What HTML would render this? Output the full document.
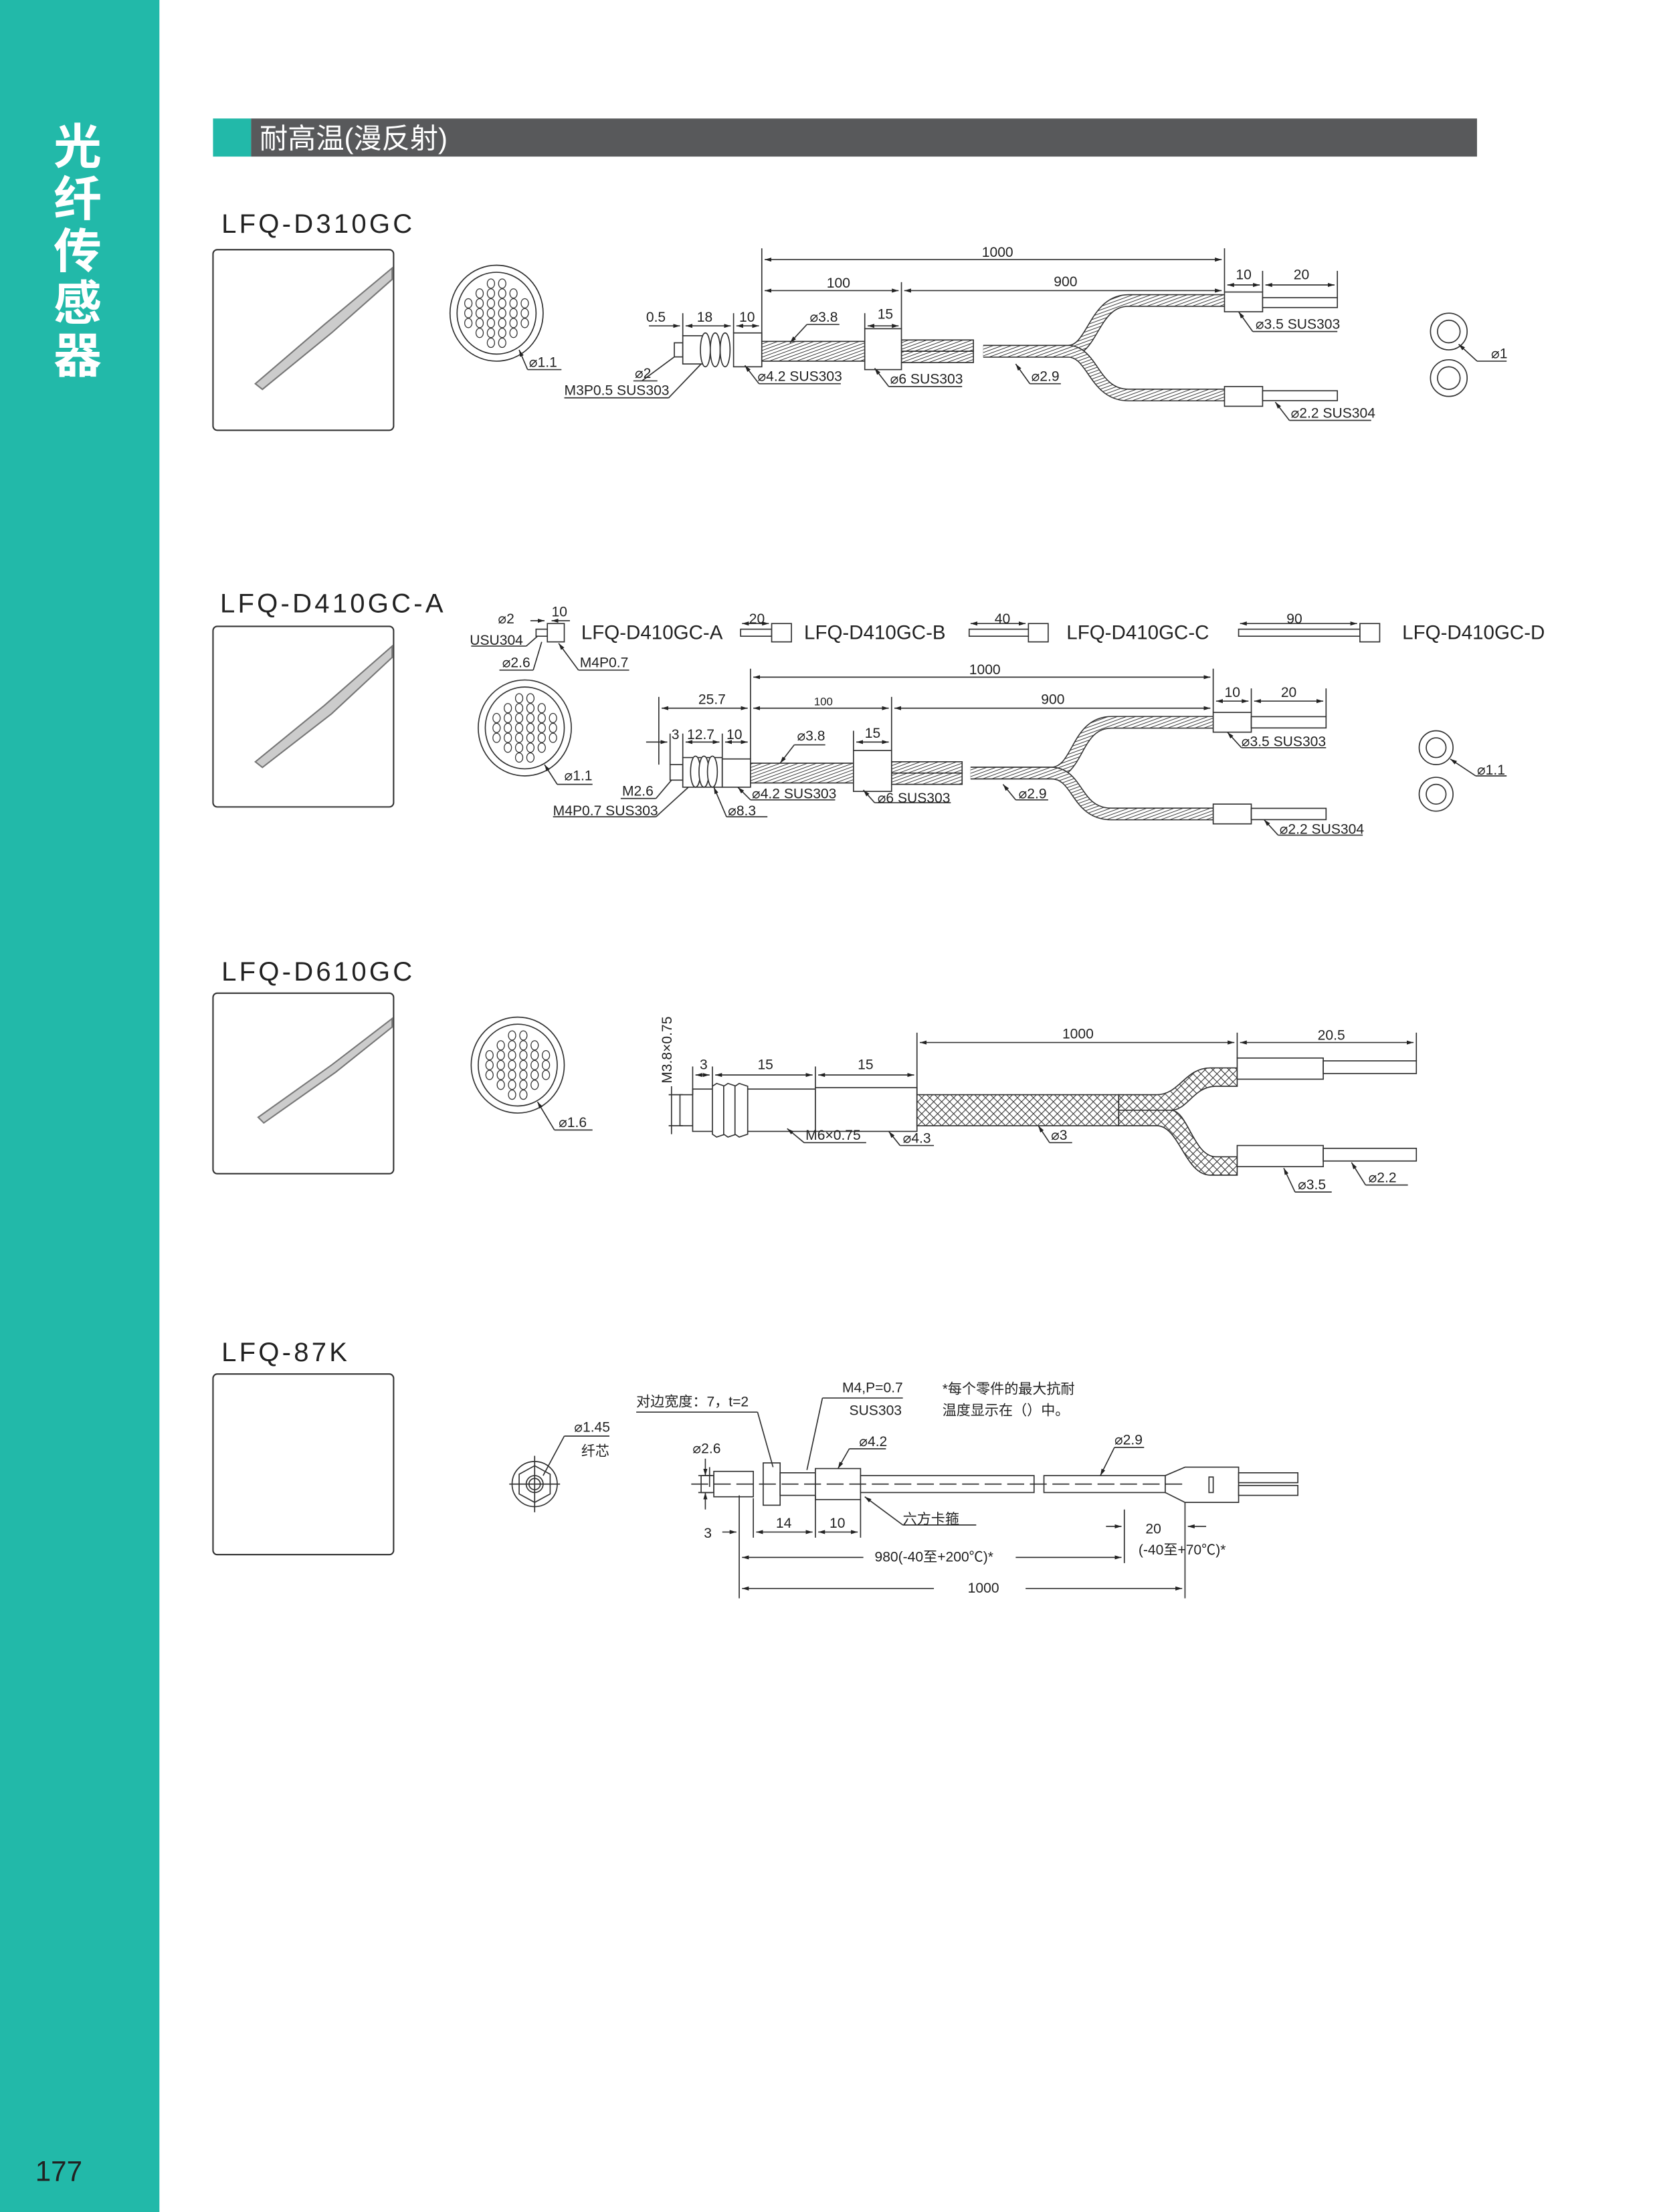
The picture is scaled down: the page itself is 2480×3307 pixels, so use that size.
<!DOCTYPE html>
<html><head><meta charset="utf-8"><style>
html,body{margin:0;padding:0;background:#fff}
svg{display:block}
text{font-family:"Liberation Sans","Noto Sans CJK SC",sans-serif;fill:#222}
</style></head><body>
<svg width="2480" height="3307" viewBox="0 0 1176 1568" preserveAspectRatio="none" xmlns="http://www.w3.org/2000/svg">
<defs>
<pattern id="h" width="2.2" height="2.2" patternUnits="userSpaceOnUse" patternTransform="rotate(70)">
<rect width="2.2" height="2.2" fill="#fff"/><line x1="0" y1="0" x2="0" y2="2.2" stroke="#333" stroke-width="0.9"/></pattern>
<pattern id="x" width="4" height="4" patternUnits="userSpaceOnUse" patternTransform="rotate(45)">
<rect width="4" height="4" fill="#fff"/><line x1="0" y1="0" x2="0" y2="4" stroke="#333" stroke-width="1"/><line x1="0" y1="0" x2="4" y2="0" stroke="#333" stroke-width="1"/></pattern>
<marker id="a" viewBox="0 0 10 10" refX="10" refY="5" markerWidth="6" markerHeight="6" orient="auto-start-reverse"><path d="M0,2 L10,5 L0,8z" fill="#222"/></marker>
<g id="bundle">
<ellipse cx="0" cy="0" rx="33" ry="34" fill="#fff" stroke="#333" stroke-width="0.8"/>
<ellipse cx="0" cy="0" rx="28" ry="29" fill="none" stroke="#333" stroke-width="0.8"/>
<g fill="none" stroke="#333" stroke-width="0.6">
<ellipse cx="-4" cy="-21" rx="2.6" ry="3.3"/><ellipse cx="4" cy="-21" rx="2.6" ry="3.3"/>
<ellipse cx="-12" cy="-14" rx="2.6" ry="3.3"/><ellipse cx="-4" cy="-14" rx="2.6" ry="3.3"/><ellipse cx="4" cy="-14" rx="2.6" ry="3.3"/><ellipse cx="12" cy="-14" rx="2.6" ry="3.3"/>
<ellipse cx="-20" cy="-7" rx="2.6" ry="3.3"/><ellipse cx="-12" cy="-7" rx="2.6" ry="3.3"/><ellipse cx="-4" cy="-7" rx="2.6" ry="3.3"/><ellipse cx="4" cy="-7" rx="2.6" ry="3.3"/><ellipse cx="12" cy="-7" rx="2.6" ry="3.3"/><ellipse cx="20" cy="-7" rx="2.6" ry="3.3"/>
<ellipse cx="-20" cy="0" rx="2.6" ry="3.3"/><ellipse cx="-12" cy="0" rx="2.6" ry="3.3"/><ellipse cx="-4" cy="0" rx="2.6" ry="3.3"/><ellipse cx="4" cy="0" rx="2.6" ry="3.3"/><ellipse cx="12" cy="0" rx="2.6" ry="3.3"/><ellipse cx="20" cy="0" rx="2.6" ry="3.3"/>
<ellipse cx="-20" cy="7" rx="2.6" ry="3.3"/><ellipse cx="-12" cy="7" rx="2.6" ry="3.3"/><ellipse cx="-4" cy="7" rx="2.6" ry="3.3"/><ellipse cx="4" cy="7" rx="2.6" ry="3.3"/><ellipse cx="12" cy="7" rx="2.6" ry="3.3"/><ellipse cx="20" cy="7" rx="2.6" ry="3.3"/>
<ellipse cx="-12" cy="14" rx="2.6" ry="3.3"/><ellipse cx="-4" cy="14" rx="2.6" ry="3.3"/><ellipse cx="4" cy="14" rx="2.6" ry="3.3"/><ellipse cx="12" cy="14" rx="2.6" ry="3.3"/>
<ellipse cx="-4" cy="21" rx="2.6" ry="3.3"/><ellipse cx="4" cy="21" rx="2.6" ry="3.3"/>
</g></g>
<g id="photo">
<rect x="0" y="0" width="128" height="128" rx="3" fill="#fff" stroke="#333" stroke-width="1"/>
</g>
</defs>

<rect x="0" y="0" width="113" height="1568" fill="#22b9a9"/>
<g font-size="34" font-weight="bold">
<text x="38" y="116" style="fill:#fff">光</text>
<text x="38" y="153" style="fill:#fff">纤</text>
<text x="38" y="190" style="fill:#fff">传</text>
<text x="38" y="227" style="fill:#fff">感</text>
<text x="38" y="264" style="fill:#fff">器</text>
</g>
<text x="25" y="1546" font-size="20">177</text>

<rect x="151" y="84" width="27" height="27" fill="#22b9a9"/>
<rect x="178" y="84" width="869" height="27" fill="#58595b"/>
<text x="184" y="105" font-size="20" style="fill:#fff">耐高温(漫反射)</text>

<g font-size="19" letter-spacing="2">
<text x="157" y="165">LFQ-D310GC</text>
<text x="156" y="434">LFQ-D410GC-A</text>
<text x="157" y="695">LFQ-D610GC</text>
<text x="157" y="965">LFQ-87K</text>
</g>
<use href="#photo" x="151" y="177"/>
<use href="#photo" x="151" y="444"/>
<use href="#photo" x="151" y="704"/>
<use href="#photo" x="151" y="974"/>
<g stroke="#777" fill="#ccc" stroke-width="1">
<path d="M181,272 L230,230 L278,190 L278,198 L235,236 L186,276z"/>
<path d="M181,540 L230,500 L278,458 L278,466 L235,506 L186,544z"/>
<path d="M183,792 L235,755 L278,722 L278,728 L238,760 L187,796z"/>
</g>

<g font-size="10" stroke-width="0.8">
<use href="#bundle" x="352" y="222"/>
<line x1="368" y1="248" x2="374" y2="262" stroke="#333" marker-start="url(#a)"/><line x1="374" y1="262" x2="398" y2="262" stroke="#333"/>
<text x="375" y="260">⌀1.1</text>
<g stroke="#333" fill="#fff">
<rect x="478" y="243" width="6" height="10"/>
<rect x="484" y="238" width="14" height="20"/>
<ellipse cx="500" cy="248" rx="3.5" ry="12"/><ellipse cx="507" cy="248" rx="3.5" ry="12"/><ellipse cx="514" cy="248" rx="3.5" ry="12"/>
<rect x="520" y="236" width="20" height="24"/>
<rect x="540" y="242" width="73" height="14" fill="url(#h)"/>
<rect x="639" y="241" width="51" height="8" fill="url(#h)"/><rect x="639" y="249" width="51" height="8" fill="url(#h)"/>
<path d="M697,249 L757,249 C775,249 775,213 800,213 L868,213" fill="none" stroke="#333" stroke-width="9"/>
<path d="M697,249 L757,249 C775,249 775,213 800,213 L868,213" fill="none" stroke="url(#h)" stroke-width="7.5"/>
<path d="M697,249 L757,249 C775,249 775,280 800,280 L868,280" fill="none" stroke="#333" stroke-width="9"/>
<path d="M697,249 L757,249 C775,249 775,280 800,280 L868,280" fill="none" stroke="url(#h)" stroke-width="7.5"/>
<rect x="613" y="233" width="26" height="29"/>
<rect x="868" y="207" width="27" height="14"/><rect x="895" y="211" width="53" height="7"/>
<rect x="868" y="274" width="27" height="14"/><rect x="895" y="277" width="53" height="7"/>
<circle cx="1027" cy="235" r="13"/><circle cx="1027" cy="235" r="8"/>
<circle cx="1027" cy="268" r="13"/><circle cx="1027" cy="268" r="8"/>
</g>
<g stroke="#333" fill="none">
<line x1="540" y1="176" x2="540" y2="242"/><line x1="868" y1="176" x2="868" y2="207"/><line x1="639" y1="200" x2="639" y2="233"/><line x1="895" y1="192" x2="895" y2="207"/><line x1="948" y1="192" x2="948" y2="211"/>
<line x1="542" y1="184" x2="866" y2="184" marker-start="url(#a)" marker-end="url(#a)"/>
<line x1="542" y1="206" x2="637" y2="206" marker-start="url(#a)" marker-end="url(#a)"/>
<line x1="641" y1="206" x2="866" y2="206" marker-start="url(#a)" marker-end="url(#a)"/>
<line x1="870" y1="202" x2="893" y2="202" marker-start="url(#a)" marker-end="url(#a)"/>
<line x1="897" y1="202" x2="946" y2="202" marker-start="url(#a)" marker-end="url(#a)"/>
<line x1="484" y1="222" x2="484" y2="238"/><line x1="520" y1="222" x2="520" y2="236"/>
<line x1="460" y1="231" x2="482" y2="231" marker-end="url(#a)"/><line x1="486" y1="231" x2="518" y2="231" marker-start="url(#a)" marker-end="url(#a)"/><line x1="522" y1="231" x2="538" y2="231" marker-start="url(#a)" marker-end="url(#a)"/>
<line x1="615" y1="231" x2="637" y2="231" marker-start="url(#a)" marker-end="url(#a)"/><line x1="613" y1="222" x2="613" y2="233"/>
<line x1="572" y1="230" x2="560" y2="243" marker-end="url(#a)"/><line x1="572" y1="230" x2="595" y2="230"/>
<line x1="455" y1="270" x2="478" y2="253" /><line x1="449" y1="270" x2="466" y2="270"/>
<line x1="474" y1="282" x2="497" y2="258"/><line x1="400" y1="282" x2="474" y2="282"/>
<line x1="538" y1="272" x2="528" y2="259" marker-end="url(#a)"/><line x1="538" y1="272" x2="596" y2="272"/>
<line x1="630" y1="274" x2="620" y2="261" marker-end="url(#a)"/><line x1="630" y1="274" x2="682" y2="274"/>
<line x1="730" y1="272" x2="720" y2="258" marker-end="url(#a)"/><line x1="730" y1="272" x2="752" y2="272"/>
<line x1="888" y1="235" x2="878" y2="221" marker-end="url(#a)"/><line x1="888" y1="235" x2="948" y2="235"/>
<line x1="914" y1="298" x2="904" y2="285" marker-end="url(#a)"/><line x1="914" y1="298" x2="972" y2="298"/>
<line x1="1047" y1="256" x2="1034" y2="244" marker-end="url(#a)"/><line x1="1047" y1="256" x2="1068" y2="256"/>
</g>
<text x="696" y="182">1000</text><text x="586" y="204">100</text><text x="747" y="203">900</text>
<text x="876" y="198">10</text><text x="917" y="198">20</text>
<text x="458" y="228">0.5</text><text x="494" y="228">18</text><text x="524" y="228">10</text><text x="574" y="228">⌀3.8</text><text x="622" y="226">15</text>
<text x="450" y="268">⌀2</text><text x="400" y="280">M3P0.5 SUS303</text><text x="537" y="270">⌀4.2 SUS303</text><text x="631" y="272">⌀6 SUS303</text><text x="731" y="270">⌀2.9</text>
<text x="890" y="233">⌀3.5 SUS303</text><text x="915" y="296">⌀2.2 SUS304</text><text x="1057" y="254">⌀1</text>

<g font-size="14"><text x="412" y="453">LFQ-D410GC-A</text><text x="570" y="453">LFQ-D410GC-B</text><text x="756" y="453">LFQ-D410GC-C</text><text x="994" y="453">LFQ-D410GC-D</text></g>
<g stroke="#333" fill="#fff">
<rect x="380" y="446" width="8" height="5"/><rect x="388" y="442" width="12" height="13"/>
<rect x="525" y="446" width="22" height="5"/><rect x="547" y="442" width="14" height="13"/>
<rect x="687" y="446" width="42" height="5"/><rect x="729" y="442" width="14" height="13"/>
<rect x="878" y="446" width="86" height="5"/><rect x="964" y="442" width="14" height="13"/>
</g>
<g stroke="#333" fill="none">
<line x1="376" y1="440" x2="386" y2="440" marker-end="url(#a)"/><line x1="404" y1="440" x2="391" y2="440" marker-end="url(#a)"/>
<line x1="526" y1="442" x2="545" y2="442" marker-start="url(#a)" marker-end="url(#a)"/>
<line x1="688" y1="442" x2="727" y2="442" marker-start="url(#a)" marker-end="url(#a)"/>
<line x1="879" y1="442" x2="962" y2="442" marker-start="url(#a)" marker-end="url(#a)"/>
<line x1="373" y1="458" x2="381" y2="451"/><line x1="334" y1="458" x2="373" y2="458"/>
<line x1="378" y1="475" x2="384" y2="455"/><line x1="354" y1="475" x2="378" y2="475"/>
<line x1="410" y1="475" x2="396" y2="456" marker-end="url(#a)"/><line x1="410" y1="475" x2="446" y2="475"/>
</g>
<text x="353" y="442">⌀2</text><text x="391" y="437">10</text><text x="333" y="457">USU304</text><text x="356" y="473">⌀2.6</text><text x="411" y="473">M4P0.7</text>
<text x="531" y="442">20</text><text x="705" y="442">40</text><text x="912" y="442">90</text>

<use href="#bundle" x="372" y="516"/>
<line x1="386" y1="542" x2="395" y2="556" stroke="#333" marker-start="url(#a)"/><line x1="395" y1="556" x2="420" y2="556" stroke="#333"/>
<text x="400" y="553">⌀1.1</text>
<g stroke="#333" fill="#fff">
<rect x="475" y="542" width="9" height="11"/>
<rect x="484" y="537" width="28" height="21"/>
<ellipse cx="493" cy="547" rx="3.5" ry="11"/><ellipse cx="499" cy="547" rx="3.5" ry="11"/><ellipse cx="505" cy="547" rx="3.5" ry="11"/>
<rect x="512" y="538" width="20" height="20"/>
<rect x="532" y="541" width="73" height="14" fill="url(#h)"/>
<rect x="632" y="540" width="50" height="8" fill="url(#h)"/><rect x="632" y="548" width="50" height="8" fill="url(#h)"/>
<path d="M688,548 L745,548 C765,548 762,512 788,512 L860,512" fill="none" stroke="#333" stroke-width="9"/>
<path d="M688,548 L745,548 C765,548 762,512 788,512 L860,512" fill="none" stroke="url(#h)" stroke-width="7.5"/>
<path d="M688,548 L745,548 C765,548 762,577 788,577 L860,577" fill="none" stroke="#333" stroke-width="9"/>
<path d="M688,548 L745,548 C765,548 762,577 788,577 L860,577" fill="none" stroke="url(#h)" stroke-width="7.5"/>
<rect x="605" y="532" width="27" height="29"/>
<rect x="860" y="505" width="27" height="14"/><rect x="887" y="508" width="53" height="8"/>
<rect x="860" y="570" width="27" height="14"/><rect x="887" y="573" width="53" height="8"/>
<circle cx="1018" cy="530" r="12"/><circle cx="1018" cy="530" r="7"/>
<circle cx="1018" cy="563" r="12"/><circle cx="1018" cy="563" r="7"/>
</g>
<g stroke="#333" fill="none">
<line x1="532" y1="474" x2="532" y2="538"/><line x1="860" y1="474" x2="860" y2="505"/><line x1="632" y1="494" x2="632" y2="532"/><line x1="887" y1="488" x2="887" y2="505"/><line x1="940" y1="488" x2="940" y2="508"/><line x1="467" y1="494" x2="467" y2="542"/><line x1="475" y1="520" x2="475" y2="542"/><line x1="484" y1="520" x2="484" y2="537"/><line x1="512" y1="520" x2="512" y2="537"/>
<line x1="534" y1="480" x2="858" y2="480" marker-start="url(#a)" marker-end="url(#a)"/>
<line x1="469" y1="502" x2="530" y2="502" marker-start="url(#a)" marker-end="url(#a)"/>
<line x1="534" y1="502" x2="630" y2="502" marker-start="url(#a)" marker-end="url(#a)"/>
<line x1="634" y1="502" x2="858" y2="502" marker-start="url(#a)" marker-end="url(#a)"/>
<line x1="862" y1="497" x2="885" y2="497" marker-start="url(#a)" marker-end="url(#a)"/>
<line x1="889" y1="497" x2="938" y2="497" marker-start="url(#a)" marker-end="url(#a)"/>
<line x1="458" y1="526" x2="473" y2="526" marker-end="url(#a)"/><line x1="486" y1="526" x2="510" y2="526" marker-start="url(#a)" marker-end="url(#a)"/><line x1="514" y1="526" x2="530" y2="526" marker-start="url(#a)" marker-end="url(#a)"/>
<line x1="607" y1="526" x2="630" y2="526" marker-start="url(#a)" marker-end="url(#a)"/><line x1="605" y1="518" x2="605" y2="532"/>
<line x1="563" y1="528" x2="553" y2="541" marker-end="url(#a)"/><line x1="563" y1="528" x2="585" y2="528"/>
<line x1="465" y1="566" x2="476" y2="553"/><line x1="440" y1="566" x2="465" y2="566"/>
<line x1="465" y1="579" x2="488" y2="558"/><line x1="392" y1="579" x2="465" y2="579"/>
<line x1="515" y1="579" x2="506" y2="558" marker-end="url(#a)"/><line x1="515" y1="579" x2="544" y2="579"/>
<line x1="532" y1="567" x2="523" y2="558" marker-end="url(#a)"/><line x1="532" y1="567" x2="592" y2="567"/>
<line x1="620" y1="569" x2="612" y2="560" marker-end="url(#a)"/><line x1="620" y1="569" x2="674" y2="569"/>
<line x1="720" y1="567" x2="711" y2="556" marker-end="url(#a)"/><line x1="720" y1="567" x2="743" y2="567"/>
<line x1="880" y1="530" x2="870" y2="519" marker-end="url(#a)"/><line x1="880" y1="530" x2="940" y2="530"/>
<line x1="906" y1="592" x2="896" y2="581" marker-end="url(#a)"/><line x1="906" y1="592" x2="966" y2="592"/>
<line x1="1046" y1="550" x2="1028" y2="538" marker-end="url(#a)"/><line x1="1046" y1="550" x2="1068" y2="550"/>
</g>
<text x="687" y="478">1000</text><text x="495" y="499">25.7</text><text x="577" y="500" font-size="8">100</text><text x="738" y="499">900</text>
<text x="868" y="494">10</text><text x="908" y="494">20</text>
<text x="476" y="524">3</text><text x="487" y="524">12.7</text><text x="515" y="524">10</text><text x="565" y="525">⌀3.8</text><text x="613" y="523">15</text>
<text x="441" y="564">M2.6</text><text x="392" y="578">M4P0.7 SUS303</text><text x="516" y="578">⌀8.3</text><text x="533" y="566">⌀4.2 SUS303</text><text x="622" y="569">⌀6 SUS303</text><text x="722" y="566">⌀2.9</text>
<text x="880" y="529">⌀3.5 SUS303</text><text x="907" y="591">⌀2.2 SUS304</text><text x="1047" y="549">⌀1.1</text>

<use href="#bundle" x="367" y="755"/>
<line x1="381" y1="781" x2="393" y2="801" stroke="#333" marker-start="url(#a)"/><line x1="393" y1="801" x2="420" y2="801" stroke="#333"/>
<text x="396" y="799">⌀1.6</text>
<g stroke="#333" fill="#fff">
<rect x="482" y="776" width="9" height="22"/>
<rect x="491" y="772" width="87" height="30"/>
<path d="M508,768 L514,770 L514,804 L508,806 L505,804 L505,770z"/>
<path d="M516,768 L522,770 L522,804 L516,806 L513,804 L513,770z"/>
<path d="M524,768 L530,770 L530,804 L524,806 L521,804 L521,770z"/>
<rect x="578" y="771" width="72" height="31"/>
<rect x="650" y="776" width="143" height="22" fill="url(#x)"/>
<path d="M793,776 L820,776 C836,776 840,757 858,757 L877,757 L877,770 L862,770 C846,770 842,787 830,787 L793,787z" fill="url(#x)"/>
<path d="M793,787 L830,787 C842,787 846,820 862,820 L877,820 L877,833 L858,833 C840,833 836,798 820,798 L793,798z" fill="url(#x)"/>
<rect x="877" y="750" width="61" height="15"/><rect x="938" y="752" width="66" height="9"/>
<rect x="877" y="812" width="61" height="15"/><rect x="938" y="814" width="66" height="9"/>
</g>
<g stroke="#333" fill="none">
<line x1="650" y1="732" x2="650" y2="776"/><line x1="877" y1="732" x2="877" y2="750"/><line x1="1004" y1="732" x2="1004" y2="752"/>
<line x1="652" y1="739" x2="875" y2="739" marker-start="url(#a)" marker-end="url(#a)"/>
<line x1="879" y1="739" x2="1002" y2="739" marker-start="url(#a)" marker-end="url(#a)"/>
<line x1="491" y1="756" x2="491" y2="776"/><line x1="505" y1="756" x2="505" y2="770"/><line x1="578" y1="756" x2="578" y2="771"/>
<line x1="493" y1="762" x2="503" y2="762" marker-start="url(#a)" marker-end="url(#a)"/>
<line x1="507" y1="762" x2="576" y2="762" marker-start="url(#a)" marker-end="url(#a)"/>
<line x1="580" y1="762" x2="648" y2="762" marker-start="url(#a)" marker-end="url(#a)"/>
<line x1="474" y1="776" x2="484" y2="776"/><line x1="474" y1="798" x2="484" y2="798"/><line x1="476" y1="770" x2="476" y2="804"/>
<line x1="570" y1="810" x2="558" y2="800" marker-end="url(#a)"/><line x1="570" y1="810" x2="614" y2="810"/>
<line x1="638" y1="812" x2="630" y2="802" marker-end="url(#a)"/><line x1="638" y1="812" x2="662" y2="812"/>
<line x1="744" y1="810" x2="736" y2="798" marker-end="url(#a)"/><line x1="744" y1="810" x2="760" y2="810"/>
<line x1="918" y1="845" x2="910" y2="828" marker-end="url(#a)"/><line x1="918" y1="845" x2="944" y2="845"/>
<line x1="968" y1="840" x2="958" y2="824" marker-end="url(#a)"/><line x1="968" y1="840" x2="998" y2="840"/>
</g>
<text x="753" y="736">1000</text><text x="934" y="737">20.5</text><text x="496" y="758">3</text><text x="537" y="758">15</text><text x="608" y="758">15</text>
<text transform="translate(476,768) rotate(-90)" font-size="10">M3.8×0.75</text>
<text x="571" y="808">M6×0.75</text><text x="640" y="810">⌀4.3</text><text x="745" y="808">⌀3</text><text x="920" y="843">⌀3.5</text><text x="970" y="838">⌀2.2</text>

<g stroke="#333" fill="none">
<circle cx="379" cy="1052" r="16"/><circle cx="379" cy="1052" r="6"/><circle cx="379" cy="1052" r="4"/>
<path d="M379,1039 L390,1045 L390,1059 L379,1065 L368,1059 L368,1045z"/>
<line x1="361" y1="1052" x2="397" y2="1052"/><line x1="379" y1="1032" x2="379" y2="1072"/>
<line x1="385" y1="1046" x2="400" y2="1018"/><line x1="400" y1="1018" x2="432" y2="1018"/>
</g>
<text x="407" y="1015">⌀1.45</text><text x="412" y="1032">纤芯</text>
<g stroke="#333" fill="#fff">
<rect x="497" y="1046" width="9" height="12"/>
<rect x="506" y="1043" width="28" height="18"/>
<rect x="541" y="1037" width="12" height="30"/>
<rect x="553" y="1044" width="25" height="16"/>
<rect x="578" y="1041" width="32" height="22"/>
<rect x="610" y="1046" width="123" height="12"/>
<rect x="740" y="1046" width="86" height="12"/>
<path d="M826,1046 L840,1040 L878,1040 L878,1065 L840,1065 L826,1058z"/>
<rect x="878" y="1044" width="42" height="7"/><rect x="878" y="1053" width="42" height="7"/>
<rect x="857" y="1047" width="3" height="11"/>
</g>
<g stroke="#333" fill="none">
<line x1="490" y1="1052" x2="840" y2="1052" stroke-dasharray="12,4"/>
<line x1="503" y1="1040" x2="503" y2="1054"/><line x1="495" y1="1046" x2="505" y2="1046"/><line x1="495" y1="1058" x2="505" y2="1058"/>
<line x1="500" y1="1034" x2="500" y2="1046" marker-end="url(#a)"/><line x1="500" y1="1070" x2="500" y2="1058" marker-end="url(#a)"/>
<line x1="524" y1="1060" x2="524" y2="1133"/><line x1="578" y1="1060" x2="578" y2="1090"/><line x1="610" y1="1063" x2="610" y2="1090"/><line x1="534" y1="1062" x2="534" y2="1090"/>
<line x1="797" y1="1070" x2="797" y2="1108"/><line x1="840" y1="1065" x2="840" y2="1133"/>
<line x1="512" y1="1086" x2="522" y2="1086" marker-end="url(#a)"/><line x1="536" y1="1086" x2="576" y2="1086" marker-start="url(#a)" marker-end="url(#a)"/><line x1="580" y1="1086" x2="608" y2="1086" marker-start="url(#a)" marker-end="url(#a)"/>
<line x1="526" y1="1104" x2="612" y2="1104" marker-start="url(#a)"/><line x1="720" y1="1104" x2="795" y2="1104" marker-end="url(#a)"/>
<line x1="784" y1="1082" x2="795" y2="1082" marker-end="url(#a)"/><line x1="855" y1="1082" x2="842" y2="1082" marker-end="url(#a)"/>
<line x1="526" y1="1126" x2="662" y2="1126" marker-start="url(#a)"/><line x1="727" y1="1126" x2="838" y2="1126" marker-end="url(#a)"/>
<line x1="451" y1="1001" x2="537" y2="1001"/><line x1="537" y1="1001" x2="548" y2="1040"/>
<line x1="583" y1="991" x2="640" y2="991"/><line x1="583" y1="991" x2="572" y2="1042"/>
<line x1="602" y1="1027" x2="628" y2="1027"/><line x1="602" y1="1027" x2="594" y2="1041" marker-end="url(#a)"/>
<line x1="790" y1="1026" x2="811" y2="1026"/><line x1="790" y1="1026" x2="780" y2="1046" marker-end="url(#a)"/>
<line x1="640" y1="1081" x2="692" y2="1081"/><line x1="640" y1="1081" x2="613" y2="1061" marker-end="url(#a)"/>
</g>
<text x="491" y="1030">⌀2.6</text><text x="451" y="997">对边宽度：7，t=2</text><text x="597" y="987">M4,P=0.7</text><text x="602" y="1003">SUS303</text>
<text x="668" y="988">*每个零件的最大抗耐</text><text x="668" y="1003">温度显示在（）中。</text>
<text x="609" y="1025">⌀4.2</text><text x="790" y="1024">⌀2.9</text><text x="640" y="1080">六方卡箍</text>
<text x="499" y="1090">3</text><text x="550" y="1083">14</text><text x="588" y="1083">10</text>
<text x="620" y="1107">980(-40至+200℃)*</text><text x="812" y="1087">20</text><text x="807" y="1102">(-40至+70℃)*</text>
<text x="686" y="1129">1000</text>
</g>
</svg>
</body></html>
